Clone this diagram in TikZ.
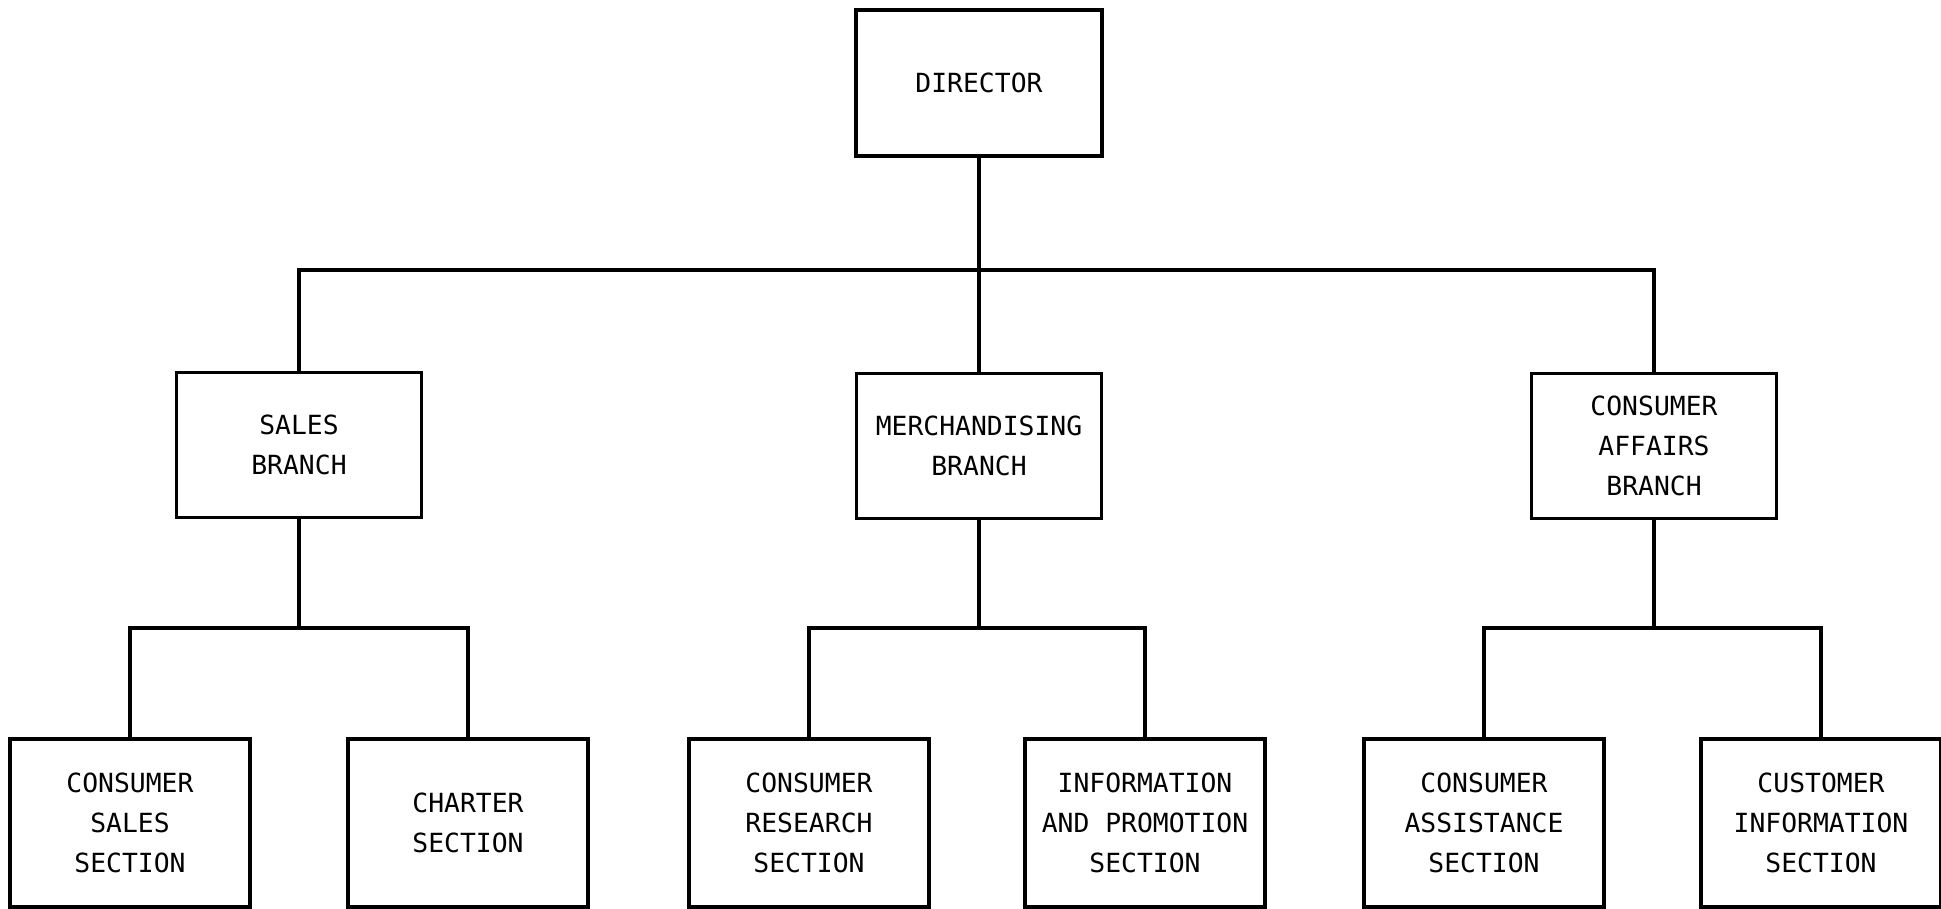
\documentclass[tikz,border=0pt]{standalone}
\usepackage{fontspec}
\setmonofont{DejaVu Sans Mono}
\usepackage{tikz}
\usetikzlibrary{calc}
\tikzset{box/.style={draw,line width=0.9pt,align=center,font=\fontsize{7.5}{11.4}\selectfont\ttfamily,inner sep=0pt}}
\tikzset{top/.style={box,minimum width=2.46cm,minimum height=1.46cm}}
\tikzset{branch/.style={box,minimum width=2.45cm,minimum height=1.45cm}}
\tikzset{sect/.style={box,minimum width=2.4cm,minimum height=1.68cm}}
\tikzset{wire/.style={line width=0.9pt}}

\begin{document}
\begin{tikzpicture}[x=0.01cm,y=0.01cm]
        \useasboundingbox (0,0) rectangle (1941,909);
        \coordinate (bar) at (0,639);
        \coordinate (lo) at (0,281);
        % director and branches
        \node[top] (dir) at (979,826) {DIRECTOR};
        \node[branch] (sales) at (299,464) {SALES\\BRANCH};
        \node[branch] (merch) at (979,463) {MERCHANDISING\\BRANCH};
        \node[branch] (aff) at (1654,463) {CONSUMER\\AFFAIRS\\BRANCH};
        % sections
        \node[sect] (cs) at (130,86) {CONSUMER\\SALES\\SECTION};
        \node[sect] (ch) at (468,86) {CHARTER\\SECTION};
        \node[sect] (cr) at (809,86) {CONSUMER\\RESEARCH\\SECTION};
        \node[sect] (ip) at (1145,86) {INFORMATION\\AND PROMOTION\\SECTION};
        \node[sect] (ca) at (1484,86) {CONSUMER\\ASSISTANCE\\SECTION};
        \node[sect] (ci) at (1821,86) {CUSTOMER\\INFORMATION\\SECTION};
        % lines
        \draw[wire] (dir.south) -- (merch.north);
        \draw[wire] (sales.north) |- (bar -| dir.south) -| (aff.north);
        \draw[wire] (sales.south) -- (sales.south |- lo);
        \draw[wire] (cs.north) |- (sales.south |- lo) -| (ch.north);
        \draw[wire] (merch.south) -- (merch.south |- lo);
        \draw[wire] (cr.north) |- (merch.south |- lo) -| (ip.north);
        \draw[wire] (aff.south) -- (aff.south |- lo);
        \draw[wire] (ca.north) |- (aff.south |- lo) -| (ci.north);
      \end{tikzpicture}
\end{document}
